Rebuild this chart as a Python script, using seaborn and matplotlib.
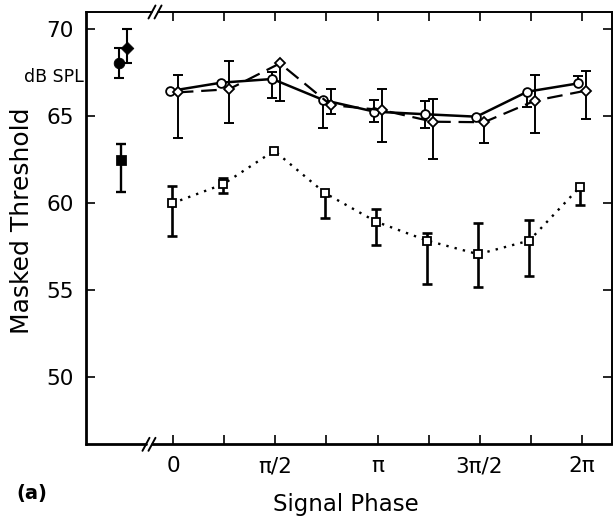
import numpy as np
import matplotlib
matplotlib.use("Agg")
import matplotlib.pyplot as plt
import seaborn as sns
from matplotlib.lines import Line2D
import matplotlib.transforms as mtransforms

# ---------------- data (phase in units of pi) ----------------
phase_pi = [0, 0.25, 0.5, 0.75, 1.0, 1.25, 1.5, 1.75, 2.0]
tick_pi = [0, 0.5, 1.0, 1.5, 2.0]
tick_labels = ["0", "π/2", "π", "3π/2", "2π"]
minor_pi = [0.25, 0.75, 1.25, 1.75]
ref_pi = -0.25  # position of the reference (filled) points, left of the axis break

# solid line, open circles
solid_y  = [66.45, 66.93, 67.14, 65.93, 65.26, 65.11, 64.97, 66.41, 66.89]
solid_lo = [66.45, 66.93, 66.06, 64.34, 64.65, 64.34, 64.97, 65.54, 66.89]
solid_hi = [66.45, 66.93, 67.56, 65.93, 65.93, 65.89, 64.97, 66.41, 67.31]

# dashed line, open diamonds
dash_y  = [66.37, 66.55, 68.04, 65.64, 65.35, 64.68, 64.65, 65.89, 66.47]
dash_lo = [63.72, 64.59, 65.87, 65.11, 63.53, 62.52, 63.47, 64.05, 64.82]
dash_hi = [67.37, 68.16, 68.04, 66.55, 66.55, 65.97, 64.65, 67.37, 67.62]

# dotted line, open squares
dot_y  = [59.98, 61.08, 63.01, 60.56, 58.92, 57.83, 57.05, 57.83, 60.94]
dot_lo = [58.07, 60.56, 63.01, 59.12, 57.58, 55.34, 55.16, 55.81, 59.88]
dot_hi = [60.98, 61.46, 63.01, 60.56, 59.64, 58.29, 58.83, 59.02, 60.94]

# reference (filled) points
ref_circle = [68.04, 67.18, 68.91]   # value, low, high
ref_diamond = [68.94, 68.08, 70.00]
ref_square = [62.48, 60.65, 63.40]

# ---------------- style ----------------
sns.set_theme(style="ticks")
plt.rcParams["font.family"] = ["DejaVu Sans"]
plt.rcParams["text.color"] = "black"
plt.rcParams["axes.labelcolor"] = "black"
plt.rcParams["xtick.color"] = "black"
plt.rcParams["ytick.color"] = "black"

fig = plt.figure(figsize=(6.13, 5.21), dpi=100)
ax = fig.add_axes([0.1403, 0.1472, 0.8576, 0.8298])

x = np.array(phase_pi) * np.pi
xr = ref_pi * np.pi
off_c, off_d, off_s = -0.048, 0.068, -0.02


def draw_err(xs, ys, lo, hi, lw=1.5, cap=7.5):
    xs, ys, lo, hi = map(np.asarray, (xs, ys, lo, hi))
    ax.errorbar(xs, ys, yerr=[ys - lo, hi - ys], fmt="none", ecolor="black",
                elinewidth=lw, capsize=0, zorder=2)
    m_lo = (ys - lo) > 0.25
    m_hi = (hi - ys) > 0.25
    ax.plot(xs[m_lo], lo[m_lo], ls="none", marker="_", ms=cap, mew=lw, color="black", zorder=2)
    ax.plot(xs[m_hi], hi[m_hi], ls="none", marker="_", ms=cap, mew=lw, color="black", zorder=2)


draw_err(x + off_c, solid_y, solid_lo, solid_hi, lw=1.4)
draw_err(x + off_d, dash_y, dash_lo, dash_hi, lw=1.4)
draw_err(x + off_s, dot_y, dot_lo, dot_hi, lw=1.9)
draw_err([xr + off_c], [ref_circle[0]], [ref_circle[1]], [ref_circle[2]], lw=1.5)
draw_err([xr + off_d], [ref_diamond[0]], [ref_diamond[1]], [ref_diamond[2]], lw=1.5)
draw_err([xr + off_s], [ref_square[0]], [ref_square[1]], [ref_square[2]], lw=1.7)

mk = dict(markerfacecolor="white", markeredgecolor="black", markeredgewidth=1.3, color="black")
sns.lineplot(x=x + off_c, y=solid_y, sort=False, marker="o", markersize=6.3, lw=1.8,
             ax=ax, zorder=3, **mk)
sns.lineplot(x=x + off_d, y=dash_y, sort=False, marker="D", markersize=5.4, lw=1.6,
             ax=ax, zorder=3, **mk)
ax.lines[-1].set_dashes([7, 3.5])
sns.lineplot(x=x + off_s, y=dot_y, sort=False, marker="s", markersize=5.8, lw=1.7,
             ax=ax, zorder=3, **mk)
ax.lines[-1].set_dashes([1, 2.6])

sns.scatterplot(x=[xr + off_c], y=[ref_circle[0]], marker="o", s=58, color="black",
                edgecolor="black", ax=ax, zorder=4)
sns.scatterplot(x=[xr + off_d], y=[ref_diamond[0]], marker="D", s=42, color="black",
                edgecolor="black", ax=ax, zorder=4)
sns.scatterplot(x=[xr + off_s], y=[ref_square[0]], marker="s", s=48, color="black",
                edgecolor="black", ax=ax, zorder=4)

ax.set_xlim(-1.347, 6.748)
ax.set_ylim(46.1, 71.0)

ax.set_xticks(np.array(tick_pi) * np.pi)
ax.set_xticklabels(tick_labels)
ax.set_xticks(np.array(minor_pi) * np.pi, minor=True)
ax.set_yticks([50, 55, 60, 65, 70])
ax.tick_params(axis="both", which="both", direction="in", length=6.5, width=1.2,
               top=True, right=True, labelsize=15.5, colors="black")
ax.tick_params(axis="x", which="both", pad=8.5)
ax.tick_params(axis="y", which="both", pad=9.0)

ax.spines["left"].set_linewidth(2.0)
ax.spines["right"].set_linewidth(1.4)
for s in ("left", "right"):
    ax.spines[s].set_color("black")
ax.spines["top"].set_visible(False)
ax.spines["bottom"].set_visible(False)

# broken top / bottom axis lines
dx, dy = 3.5 / 525.7, 6.5 / 432.3
for yb, b1, b2, lw in ((0.0, 0.1141, 0.1255, 2.0), (1.0, 0.1255, 0.1370, 1.4)):
    for seg in ((0, b1), (b2, 1)):
        ax.add_line(Line2D(seg, (yb, yb), transform=ax.transAxes, color="black",
                           lw=lw, clip_on=False, zorder=5))
    for b in (b1, b2):
        ax.add_line(Line2D((b - dx, b + dx), (yb - dy, yb + dy), transform=ax.transAxes,
                           color="black", lw=1.4, clip_on=False, zorder=5))

ax.set_xlabel("Signal Phase", fontsize=16.5, color="black")
ax.set_ylabel("Masked Threshold", fontsize=18, color="black")
ax.xaxis.set_label_coords(0.4946, -0.1127)
ax.yaxis.set_label_coords(-0.099, 0.5165)

trans = mtransforms.blended_transform_factory(ax.transAxes, ax.transData)
ax.text(-0.004, 67.25, "dB SPL", transform=trans, ha="right", va="center", fontsize=12.5,
        color="black")
fig.text(32 / 613, 1 - 493 / 521, "(a)", ha="center", va="center", fontsize=14,
         fontweight="bold", color="black")

fig.savefig("out.png", dpi=100)
